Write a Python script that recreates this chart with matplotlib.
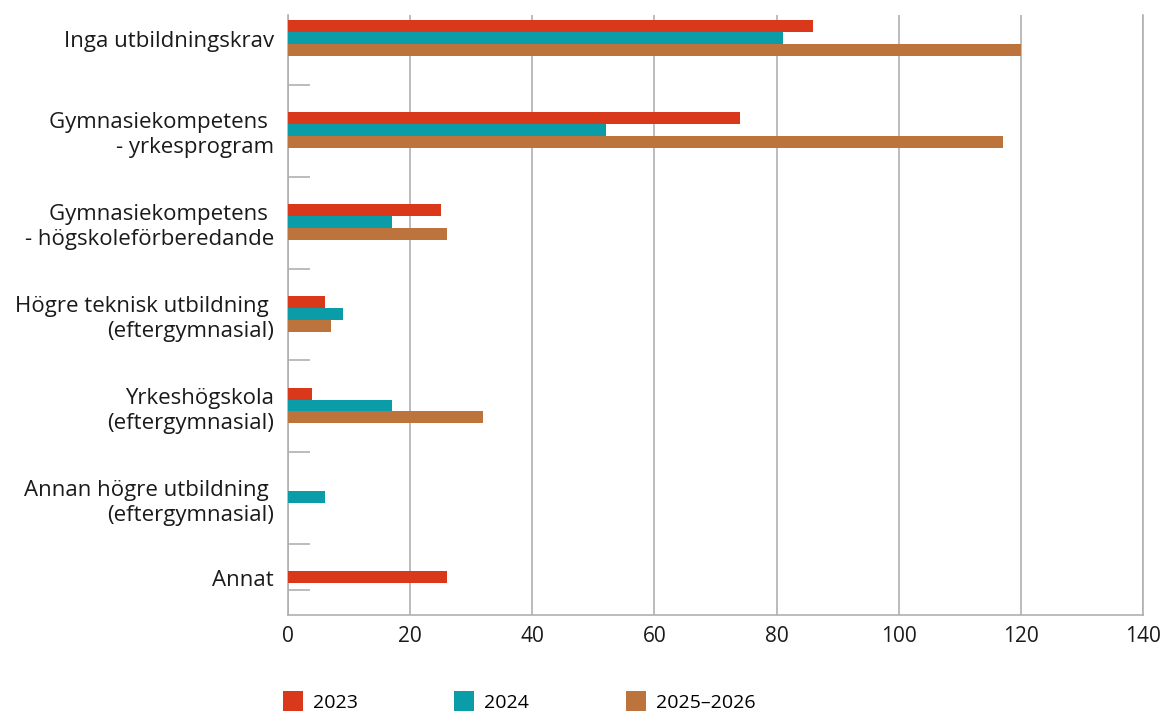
import numpy as np
import matplotlib
matplotlib.use("Agg")
import matplotlib.pyplot as plt
from matplotlib.patches import Patch

categories = [
    "Inga utbildningskrav",
    "Gymnasiekompetens \n- yrkesprogram",
    "Gymnasiekompetens \n- högskoleförberedande",
    "Högre teknisk utbildning \n(eftergymnasial)",
    "Yrkeshögskola\n(eftergymnasial)",
    "Annan högre utbildning \n(eftergymnasial)",
    "Annat",
]
series_names = ["2023", "2024", "2025\u20132026"]
values_2023 = [86, 74, 25, 6, 4, 0, 26]
values_2024 = [81, 52, 17, 9, 17, 6, 0]
values_2025 = [120, 117, 26, 7, 32, 0, 0]
colors = ["#D9381A", "#0A9DA8", "#BD743C"]

plt.rcParams["font.family"] = ["Open Sans", "DejaVu Sans"]

fig = plt.figure(figsize=(11.64, 7.14), dpi=100)
ax = fig.add_axes([288 / 1164, 99 / 714, 855 / 1164, 600 / 714])

y = np.arange(len(categories))
bar_h = 0.13
for i, (vals, col) in enumerate(zip([values_2023, values_2024, values_2025], colors)):
    ax.barh(y - 0.01 + (i - 1) * bar_h, vals, height=bar_h, color=col, zorder=3)

ax.set_xlim(0, 140)
ax.set_ylim(6.27, -0.26)
ax.set_xticks(np.arange(0, 141, 20))
# the last label sits level with its single bar, as in the source chart
label_pos = list(y[:-1]) + [y[-1] - bar_h]
ax.set_yticks(label_pos)
ax.set_yticklabels(categories, fontsize=16, color="#1a1a1a", linespacing=1.25)
ax.set_yticks(list(y[:-1] + 0.5) + [6.0], minor=True)
ax.tick_params(axis="y", which="major", length=0, pad=10)
ax.tick_params(axis="y", which="minor", direction="in", length=16, width=1.2, color="#b0b0b0")
ax.tick_params(axis="x", length=0, labelsize=15, labelcolor="#1a1a1a", pad=8)

ax.grid(axis="x", color="#b0b0b0", linewidth=1.2, zorder=0)
ax.spines["top"].set_visible(False)
for side in ["left", "bottom", "right"]:
    ax.spines[side].set_color("#b0b0b0")
    ax.spines[side].set_linewidth(1.2)

handles = [Patch(facecolor=c) for c in colors]
fig.legend(handles, series_names, loc="upper left", bbox_to_anchor=(283 / 1164, 1 - 691 / 714),
           ncol=3, frameon=False, fontsize=14, handlelength=1.03, handleheight=1.2,
           handletextpad=0.52, columnspacing=4.95, borderaxespad=0, borderpad=0)

fig.savefig("out.png", dpi=100)
